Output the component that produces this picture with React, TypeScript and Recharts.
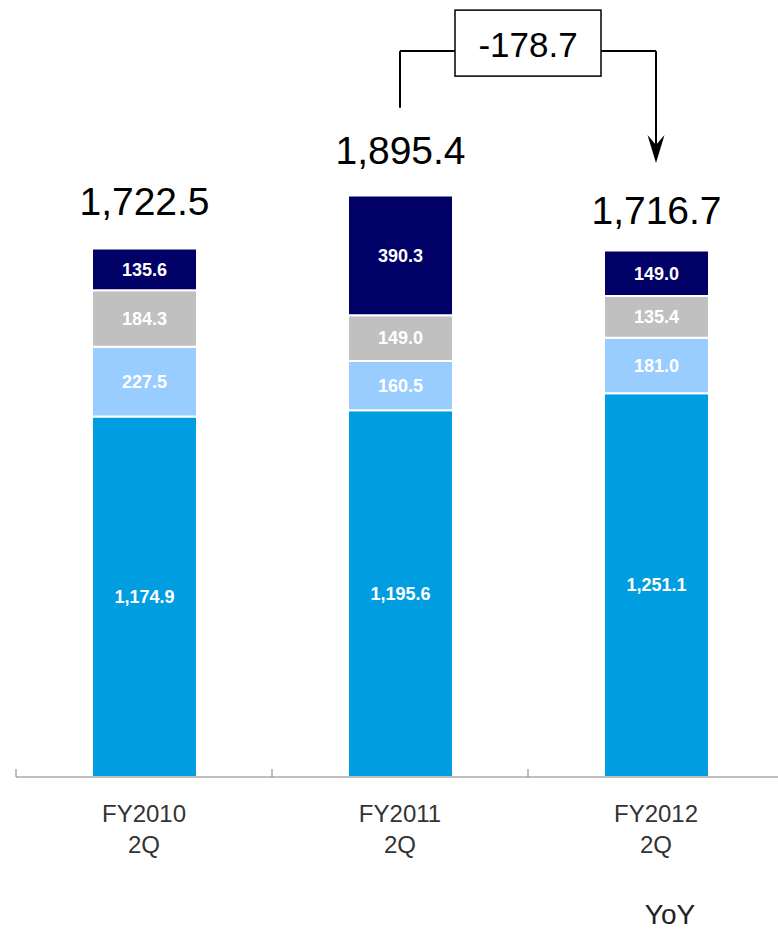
import React from 'react';
import {
  BarChart,
  Bar,
  XAxis,
  YAxis,
  LabelList,
  ReferenceLine,
  ReferenceDot,
} from 'recharts';

// values
const categories = ['FY2010 2Q', 'FY2011 2Q', 'FY2012 2Q'];
const coreSales = [1174.9, 1195.6, 1251.1];
const lightSales = [227.5, 160.5, 181.0];
const graySales = [184.3, 149.0, 135.4];
const navySales = [135.6, 390.3, 149.0];
const totals = [1722.5, 1895.4, 1716.7];
const yoyChange = -178.7;

// annotation heights in value units (y axis is hidden)
const BRACKET_Y = 2366;
const BRACKET_START = 2181;
const ARROW_TIP = 2001;

const CHART_W = 784;
const CHART_H = 931;
const LEFT = 16;
const BAND = (CHART_W - LEFT) / categories.length;
const TOTAL_LIFT = [34, 31, 26];

const FONT = '"Liberation Sans", Arial, sans-serif';

const fmt = (n: number) =>
  n.toLocaleString('en-US', { minimumFractionDigits: 1, maximumFractionDigits: 1 });

const data = categories.map((name, i) => ({
  name,
  core: coreSales[i],
  light: lightSales[i],
  gray: graySales[i],
  navy: navySales[i],
  total: totals[i],
}));

const CategoryTick = (props: any) => {
  const { x, y, payload, index } = props;
  const [line1, line2] = String(payload.value).split(' ');
  const left = x - BAND / 2;
  return (
    <g>
      <line x1={left} x2={left} y1={y} y2={y - 8} stroke="#808080" strokeWidth={1} />
      <text x={x} y={y + 45} textAnchor="middle" fill="#333" fontSize={24}>
        {line1}
      </text>
      <text x={x} y={y + 76} textAnchor="middle" fill="#333" fontSize={24}>
        {line2}
      </text>
      {index === categories.length - 1 && (
        <text x={x + 14} y={y + 147} textAnchor="middle" fill="#222" fontSize={28}>
          YoY
        </text>
      )}
    </g>
  );
};

const TotalLabel = (props: any) => {
  const vb = props.viewBox ?? props;
  const idx = props.index ?? 0;
  return (
    <text
      x={vb.x + vb.width / 2}
      y={vb.y - TOTAL_LIFT[idx]}
      textAnchor="middle"
      fontSize={39}
      fill="#000"
    >
      {fmt(Number(props.value))}
    </text>
  );
};

const ChangeBox = (props: any) => {
  const vb = props.viewBox;
  const cx = vb.x + vb.width / 2;
  const cy = vb.y;
  return (
    <g>
      <rect x={cx - 73} y={cy - 41} width={146} height={66} fill="#fff" stroke="#000" strokeWidth={1.5} />
      <text x={cx} y={cy + 6} textAnchor="middle" fontSize={35} fill="#000">
        {fmt(yoyChange)}
      </text>
    </g>
  );
};

const ArrowHead = (props: any) => {
  const { cx, cy } = props;
  return (
    <path
      d={`M${cx},${cy} L${cx - 8.5},${cy - 28} L${cx},${cy - 18} L${cx + 8.5},${cy - 28} Z`}
      fill="#000"
    />
  );
};

const segLabel = {
  fill: '#fff',
  fontSize: 18,
  fontWeight: 'bold' as const,
};

export default function App() {
  return (
    <div
      style={{
        position: 'absolute',
        left: 0,
        top: 0,
        width: 778,
        height: 931,
        overflow: 'hidden',
        background: '#fff',
        fontFamily: FONT,
      }}
    >
      <BarChart
        width={CHART_W}
        height={CHART_H}
        data={data}
        margin={{ top: 10, right: 0, bottom: 0, left: LEFT }}
        barSize={105}
      >
        <XAxis
          dataKey="name"
          height={154}
          interval={0}
          tickSize={0}
          tickMargin={0}
          tickLine={false}
          axisLine={{ stroke: '#808080', strokeWidth: 1 }}
          tick={<CategoryTick />}
        />
        <YAxis hide domain={[0, 2500]} />
        <Bar dataKey="core" stackId="a" fill="#009EE0" stroke="#fff" strokeWidth={2} isAnimationActive={false}>
          <LabelList dataKey="core" position="center" formatter={(v: any) => fmt(Number(v))} {...segLabel} />
        </Bar>
        <Bar dataKey="light" stackId="a" fill="#99CCFF" stroke="#fff" strokeWidth={2} isAnimationActive={false}>
          <LabelList dataKey="light" position="center" formatter={(v: any) => fmt(Number(v))} {...segLabel} />
        </Bar>
        <Bar dataKey="gray" stackId="a" fill="#C0C0C0" stroke="#fff" strokeWidth={2} isAnimationActive={false}>
          <LabelList dataKey="gray" position="center" formatter={(v: any) => fmt(Number(v))} {...segLabel} />
        </Bar>
        <Bar dataKey="navy" stackId="a" fill="#000066" stroke="#fff" strokeWidth={2} isAnimationActive={false}>
          <LabelList dataKey="navy" position="center" formatter={(v: any) => fmt(Number(v))} {...segLabel} />
          <LabelList dataKey="total" content={<TotalLabel />} />
        </Bar>
        <ReferenceLine
          segment={[
            { x: categories[1], y: BRACKET_START },
            { x: categories[1], y: BRACKET_Y },
          ]}
          stroke="#000"
          strokeWidth={2}
          ifOverflow="visible"
        />
        <ReferenceLine
          segment={[
            { x: categories[2], y: BRACKET_Y },
            { x: categories[2], y: ARROW_TIP + 10 },
          ]}
          stroke="#000"
          strokeWidth={2}
          ifOverflow="visible"
        />
        <ReferenceLine
          segment={[
            { x: categories[1], y: BRACKET_Y },
            { x: categories[2], y: BRACKET_Y },
          ]}
          stroke="#000"
          strokeWidth={2}
          ifOverflow="visible"
          label={<ChangeBox />}
        />
        <ReferenceDot
          x={categories[2]}
          y={ARROW_TIP}
          r={9}
          ifOverflow="visible"
          shape={<ArrowHead />}
        />
      </BarChart>
    </div>
  );
}
